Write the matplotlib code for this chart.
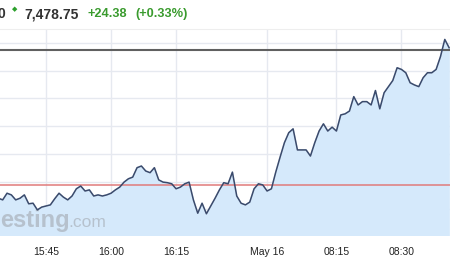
import matplotlib
matplotlib.use("Agg")
import matplotlib.pyplot as plt

# FTSE 100 intraday, one point per minute (15:35 -> next morning 08:41)
prices = [7452.0, 7451.7, 7452.9, 7452.6, 7451.7, 7452.0, 7452.6, 7451.0, 7451.1, 7449.9,
          7450.4, 7450.6, 7450.8, 7451.9, 7452.9, 7452.2, 7451.7, 7452.4, 7453.7, 7454.2,
          7453.3, 7453.5, 7452.4, 7452.6, 7452.4, 7452.6, 7452.9, 7453.5, 7454.0, 7454.9,
          7455.5, 7455.8, 7457.5, 7457.8, 7456.9, 7456.6, 7457.5, 7455.3, 7454.9, 7454.8,
          7454.6, 7453.7, 7454.0, 7454.6, 7454.9, 7451.7, 7449.3, 7451.1, 7449.2, 7450.6,
          7452.0, 7453.5, 7454.8, 7454.6, 7456.7, 7452.4, 7451.1, 7450.8, 7451.3, 7453.7,
          7454.6, 7454.4, 7453.3, 7453.7, 7456.7, 7459.4, 7462.0, 7463.8, 7464.5, 7460.7,
          7460.7, 7460.7, 7459.6, 7462.0, 7464.1, 7465.4, 7464.1, 7464.8, 7464.1, 7467.0,
          7467.2, 7467.7, 7470.3, 7468.8, 7469.4, 7469.4, 7468.8, 7471.4, 7468.1, 7471.0,
          7472.1, 7473.2, 7475.5, 7475.2, 7474.6, 7472.8, 7472.4, 7472.1, 7473.7, 7474.6,
          7474.6, 7475.2, 7477.5, 7480.6, 7479.1]
idx = list(range(len(prices)))

tick_pos = [11, 26, 41, 62, 78, 93]
tick_labels = ['15:45', '16:00', '16:15', 'May 16', '08:15', '08:30']
grid_levels = [7450, 7455, 7460, 7465, 7470, 7475, 7480]

last_price = 7478.75
prev_close = 7454.37

plt.rcParams['font.family'] = ['Liberation Sans', 'DejaVu Sans']

fig = plt.figure(figsize=(4.5, 2.7), dpi=100)
ax = fig.add_axes([0, 0.126, 1, 0.767])

ax.fill_between(idx, prices, 7440, color='#d5e9fb', zorder=1)
ax.plot(idx, prices, color='#3b4a6b', lw=1.1, zorder=4)
ax.axhline(prev_close, color='#e07b7b', lw=1.1, zorder=3)
ax.axhline(last_price, color='#606060', lw=1.5, zorder=3)

ax.set_xlim(0.38, 104.2)
ax.set_ylim(7445.2, 7482.5)
ax.set_xticks(tick_pos)
ax.set_xticklabels(tick_labels)
ax.set_yticks(grid_levels)
ax.grid(True, color='#e6e9f0', lw=1, zorder=0)
ax.set_axisbelow(True)
ax.tick_params(axis='x', length=0, pad=8, labelsize=7.5, colors='#222222')
ax.tick_params(axis='y', left=False, labelleft=False)
for s in ax.spines.values():
    s.set_visible(False)
ax.spines['top'].set_visible(True)
ax.spines['top'].set_color('#eeeeee')

# watermark (logo cut at the left edge)
wm = dict(transform=fig.transFigure, color='#a9b1ba', alpha=0.7, zorder=2, va='baseline')
ax.text(0.0, 0.16, 'esting', fontsize=17, fontweight='bold', **wm)
ax.text(0.152, 0.16, '.com', fontsize=12.5, **wm)

# header
fig.text(-0.006, 0.948, '0', fontsize=10, fontweight='bold', color='#333333', va='center')
fig.text(0.026, 0.965, '\u25C6', fontsize=5, color='#2ca02c', va='center',
         family=['DejaVu Sans'])
fig.text(0.055, 0.948, '7,478.75', fontsize=10, fontweight='bold', color='#333333', va='center')
fig.text(0.195, 0.948, '+24.38', fontsize=9.2, fontweight='bold', color='#3a9b2e', va='center')
fig.text(0.30, 0.948, '(+0.33%)', fontsize=9.2, fontweight='bold', color='#3a9b2e', va='center')

fig.savefig('out.png', dpi=100)
